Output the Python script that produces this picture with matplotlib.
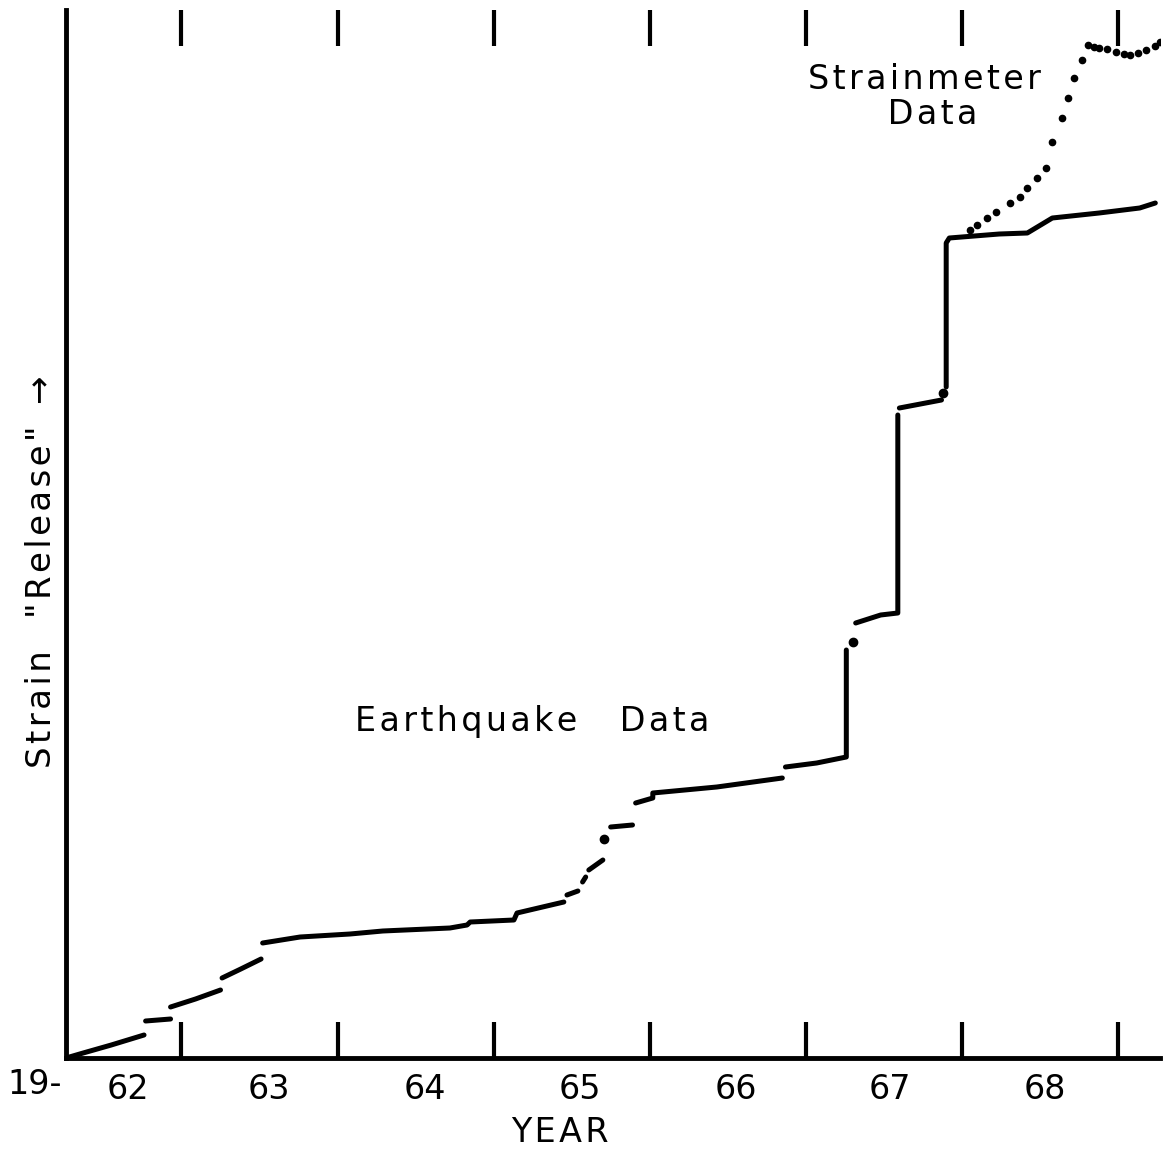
import numpy as np
import matplotlib
matplotlib.use("Agg")
import matplotlib.pyplot as plt

nan = np.nan

# earthquake strain release, segments separated by nan
eq_year = [1962.26, 1962.37, 1962.55, 1962.76, nan,
           1962.77, 1962.93, nan,
           1962.93, 1963.09, 1963.25, nan,
           1963.26, 1963.38, 1963.51, nan,
           1963.52, 1963.76, 1964.08, 1964.29, 1964.72, 1964.83, 1964.85, 1965.13, 1965.15, 1965.45, nan,
           1965.47, 1965.54, nan,
           1965.57, 1965.59, nan,
           1965.61, 1965.70, nan,
           1965.75, 1965.89, nan,
           1965.91, 1966.02, 1966.02, 1966.43, 1966.85, nan,
           1966.87, 1967.07, 1967.26, 1967.26, nan,
           1967.32, 1967.48, 1967.59, 1967.59, nan,
           1967.60, 1967.87, nan,
           1967.90, 1967.90, 1967.92, 1968.24, 1968.42, 1968.58, 1968.88, 1969.14, 1969.24]
eq_strain = [0.0, 0.5, 1.3, 2.3, nan,
             3.7, 3.9, nan,
             5.1, 5.9, 6.8, nan,
             8.0, 8.9, 9.9, nan,
             11.5, 12.1, 12.4, 12.7, 13.0, 13.3, 13.6, 13.8, 14.5, 15.6, nan,
             16.3, 16.7, nan,
             17.6, 18.1, nan,
             18.8, 19.8, nan,
             23.1, 23.3, nan,
             25.5, 26.0, 26.5, 27.1, 28.0, nan,
             29.1, 29.5, 30.1, 40.8, nan,
             43.5, 44.3, 44.5, 64.3, nan,
             65.0, 65.8, nan,
             67.1, 81.5, 82.0, 82.4, 82.5, 84.0, 84.5, 85.0, 85.5]

# single isolated events
eq_dot_year = [1965.71, 1967.30, 1967.88]
eq_dot_strain = [21.9, 41.6, 66.5]

# strainmeter record
sm_year = [1968.05, 1968.10, 1968.16, 1968.22, 1968.31, 1968.37, 1968.42, 1968.48, 1968.54,
           1968.58, 1968.64, 1968.68, 1968.72, 1968.77, 1968.81, 1968.85, 1968.88, 1968.93,
           1968.99, 1969.04, 1969.08, 1969.13, 1969.18, 1969.24, 1969.27]
sm_strain = [82.8, 83.3, 84.0, 84.6, 85.5, 86.1, 87.0, 88.0, 89.0,
             91.6, 94.0, 96.0, 98.0, 99.8, 101.3, 101.1, 101.0, 100.9,
             100.6, 100.4, 100.3, 100.5, 100.8, 101.2, 101.6]

year_ticks = [1963, 1964, 1965, 1966, 1967, 1968, 1969]
label_pos = [1962.66, 1963.56, 1964.56, 1965.55, 1966.55, 1967.54, 1968.53]
label_txt = ['62', '63', '64', '65', '66', '67', '68']


def spaced(s):
    # the lettering in the original is widely spaced
    return '\u200a'.join(s)


plt.rcParams['font.family'] = ['DejaVu Sans']

fig = plt.figure(figsize=(11.67, 11.56), dpi=100)
ax = fig.add_axes([66 / 1167, 98 / 1156, (1160 - 66) / 1167, (1058 - 10) / 1156])

ax.plot(eq_year, eq_strain, color='black', lw=3.6, solid_capstyle='round', solid_joinstyle='round')
ax.plot(eq_dot_year, eq_dot_strain, 'o', color='black', ms=6)
ax.plot(sm_year, sm_strain, 'o', color='black', ms=4.5)

ax.set_xlim(1962.26, 1969.27)
ax.set_ylim(0, 104.8)

for s in ['top', 'right']:
    ax.spines[s].set_visible(False)
ax.spines['left'].set_linewidth(3.5)
ax.spines['bottom'].set_linewidth(3.5)

ax.set_yticks([])
ax.set_xticks(year_ticks)
ax.set_xticklabels([])
ax.tick_params(axis='x', which='major', direction='in', length=26, width=3, top=True)
ax.set_xticks(label_pos, minor=True)
ax.set_xticklabels(label_txt, minor=True, fontsize=24)
ax.tick_params(axis='x', which='minor', length=0, pad=11)

ax.text(1965.25, 33.7, spaced('Earthquake') + '    ' + spaced('Data'), fontsize=24, ha='center', va='center')
ax.text(1967.76, 96.1, spaced('Strainmeter') + '\n\u2002' + spaced('Data'), fontsize=24,
        ha='center', va='center', linespacing=1.1)

fig.text(35 / 1167, 1 - 1085 / 1156, '19-', fontsize=24, ha='center', va='center')
fig.text(560 / 1167, 1 - 1133 / 1156, spaced('YEAR'), fontsize=24, ha='center', va='center')
fig.text(42 / 1167, 1 - 572 / 1156, spaced('Strain') + '   ' + spaced('"Release"') + '  \u2192',
         fontsize=24.5, rotation=90, ha='center', va='center')

fig.savefig('out.png', dpi=100)
